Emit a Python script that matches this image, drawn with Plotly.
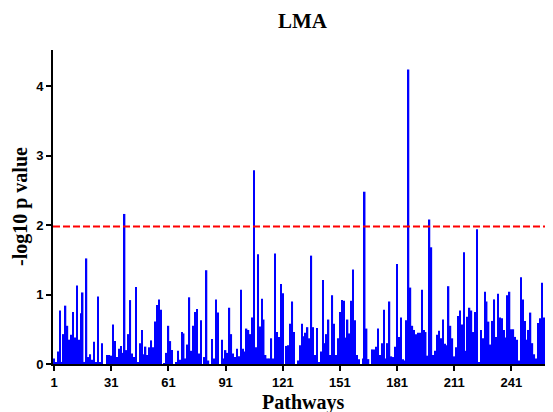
import plotly.graph_objects as go

# -log10 p values for pathways 1..262
neg_log10_p = [
    0.08, 0.02, 0.18, 0.77, 0.03, 0.43, 0.84, 0.55, 0.35, 0.42,
    0.75, 0.38, 1.13, 0.35, 0.73, 1.03, 0.03, 1.52, 0.10, 0.14,
    0.06, 0.32, 0.02, 0.97, 0.02, 0.30, 0.00, 0.00, 0.13, 0.13,
    0.12, 0.57, 0.33, 0.10, 0.22, 0.26, 0.16, 2.16, 0.20, 0.43,
    0.92, 0.15, 0.10, 1.11, 0.02, 0.30, 0.49, 0.14, 0.25, 0.13,
    0.24, 0.34, 0.24, 0.61, 0.85, 0.93, 0.78, 0.00, 0.01, 0.16,
    0.55, 0.33, 0.20, 0.00, 0.02, 0.19, 0.06, 0.46, 0.44, 0.08,
    0.28, 0.96, 0.19, 0.55, 0.75, 0.79, 0.15, 0.63, 0.00, 0.10,
    1.35, 0.05, 0.00, 0.36, 0.08, 0.93, 0.74, 0.00, 0.35, 0.08,
    0.20, 0.16, 0.81, 0.43, 0.15, 0.10, 0.22, 0.11, 1.07, 0.22,
    0.18, 0.51, 0.49, 0.43, 0.67, 2.79, 0.24, 1.58, 0.54, 0.94,
    0.64, 0.13, 0.08, 0.08, 0.37, 0.08, 1.59, 0.46, 0.39, 1.15,
    1.02, 0.00, 0.26, 0.27, 0.58, 0.90, 0.46, 0.00, 0.05, 0.27,
    0.58, 0.40, 0.45, 0.53, 0.37, 1.56, 0.53, 0.13, 0.52, 0.02,
    0.18, 1.21, 0.30, 0.43, 0.64, 0.13, 0.99, 0.58, 0.13, 0.37,
    0.75, 0.92, 0.91, 0.38, 0.64, 0.44, 0.91, 1.36, 0.63, 0.13,
    0.07, 0.00, 0.08, 2.48, 0.51, 0.07, 0.00, 0.21, 0.21, 0.25,
    0.51, 0.13, 0.30, 0.78, 0.08, 0.30, 0.90, 0.11, 0.10, 0.25,
    1.44, 0.39, 0.67, 0.07, 0.05, 0.63, 4.24, 1.10, 0.55, 0.49,
    0.43, 0.45, 0.45, 1.07, 0.49, 0.46, 0.12, 2.08, 1.68, 0.13,
    0.19, 0.42, 0.48, 0.37, 0.64, 0.29, 0.27, 1.12, 0.55, 0.37,
    0.11, 0.24, 0.69, 0.77, 0.57, 1.61, 0.19, 0.68, 0.81, 0.77,
    0.46, 0.75, 1.94, 0.03, 0.49, 0.37, 1.04, 0.90, 0.61, 0.28,
    0.62, 0.93, 0.39, 1.01, 0.67, 0.66, 0.49, 0.38, 0.99, 1.04,
    0.50, 0.50, 0.39, 0.35, 0.05, 1.25, 0.93, 0.62, 0.35, 0.49,
    0.74, 0.30, 0.14, 0.08, 0.59, 0.66, 1.17, 0.67, 1.16, 0.08,
    0.06, 0.26,
]
pathways = list(range(1, len(neg_log10_p) + 1))

x_tick_vals = [1, 31, 61, 91, 121, 151, 181, 211, 241]
y_tick_vals = [0, 1, 2, 3, 4]
threshold = 1.98

title_text = "LMA"
x_title = "Pathways"
y_title = "-log10 p value"

X_RANGE = [0.42, 262.8]
Y_RANGE = [0, 4.52]
LINE_END = 259.6

fig = go.Figure()
fig.add_trace(go.Bar(
    x=pathways, y=neg_log10_p,
    marker=dict(color="#0000FF", line=dict(width=0)),
    showlegend=False,
))
fig.add_trace(go.Scatter(
    x=[X_RANGE[0], LINE_END], y=[threshold, threshold],
    mode="lines",
    line=dict(color="#FF0000", width=2, dash="7px,3px"),
    showlegend=False, hoverinfo="skip",
))

tickfont = dict(family="Liberation Sans, Arial, sans-serif", size=13, color="black", weight="bold")
serif = "Liberation Serif, Times New Roman, serif"

# page body has an 8px margin, so the figure is 545x404 and offset by 8px
fig.update_layout(
    width=545, height=404,
    margin=dict(l=45, r=0, t=42, b=48),
    paper_bgcolor="white", plot_bgcolor="white",
    bargap=0.22,
    xaxis=dict(range=X_RANGE, tickvals=x_tick_vals, ticktext=[str(v) for v in x_tick_vals],
               showgrid=False, zeroline=False, showline=True, linecolor="black", linewidth=2,
               ticks="outside", ticklen=5, tickwidth=2, tickcolor="black",
               tickfont=tickfont),
    yaxis=dict(range=Y_RANGE, tickvals=y_tick_vals, showgrid=False, zeroline=False,
               showline=True, linecolor="black", linewidth=2,
               ticks="outside", ticklen=5, tickwidth=2, tickcolor="black",
               tickfont=tickfont),
    annotations=[
        dict(text="<b>%s</b>" % title_text, xref="paper", yref="paper", x=0.5,
             y=1 + (42 - 13) / 314, xanchor="center", yanchor="middle", showarrow=False,
             font=dict(family=serif, size=21, color="black")),
        dict(text="<b>%s</b>" % x_title, xref="paper", yref="paper", x=0.5, y=-0.122,
             xanchor="center", yanchor="middle", showarrow=False,
             font=dict(family=serif, size=20, color="black")),
        dict(text="<b>%s</b>" % y_title, xref="paper", yref="paper", x=-0.066, y=0.5,
             xanchor="center", yanchor="middle", textangle=-90, showarrow=False,
             font=dict(family=serif, size=20, color="black")),
    ],
)

fig.write_html("out.html")
